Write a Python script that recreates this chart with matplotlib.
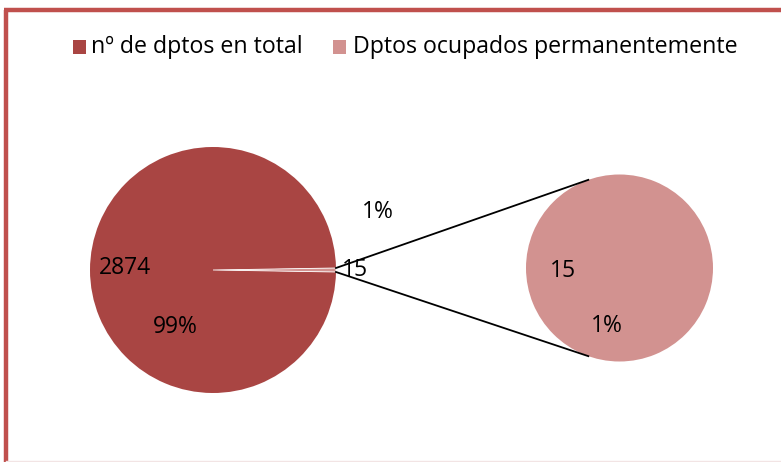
import numpy as np
import matplotlib
matplotlib.use("Agg")
import matplotlib.pyplot as plt
from matplotlib.patches import Rectangle

# Data
categories = ["nº de dptos en total", "Dptos ocupados permanentemente"]
main_values = [2874, 15]
sub_values = [15]
colors = ["#A94543", "#D29290"]
border_color = "#C0504D"

plt.rcParams['font.family'] = ['Open Sans', 'DejaVu Sans']

W, H = 781, 462
fig = plt.figure(figsize=(W / 100, H / 100), dpi=100)
ax = fig.add_axes([0, 0, 1, 1])

total = sum(main_values)
c1, r1 = (213, 270), 123
c2, r2 = (619.5, 268), 93.5

small_angle = 360 * main_values[1] / total
wedges1, _ = ax.pie(main_values, colors=colors, center=c1, radius=r1,
                    startangle=small_angle / 2, counterclock=True,
                    wedgeprops=dict(edgecolor='white', linewidth=0.6), frame=True)
wedges1[0].set_linewidth(0)

wedges2, _ = ax.pie(sub_values, colors=[colors[1]], center=c2, radius=r2,
                    wedgeprops=dict(linewidth=0), frame=True)
ax.set_xlim(0, W)
ax.set_ylim(H, 0)
ax.set_aspect('equal')
ax.axis('off')

# border (top and left)
ax.plot([5.5, 5.5], [10, H], color=border_color, lw=3.2, solid_capstyle='butt')
ax.plot([4, W], [10, 10], color=border_color, lw=3.2, solid_capstyle='butt')
ax.plot([5.5, W], [H - 1, H - 1], color="#F2E4E4", lw=1)

# connector lines
half = np.deg2rad(small_angle / 2)
end_ang = np.deg2rad(109.5)
for s in (-1, 1):
    p0 = (c1[0] + r1 * np.cos(half), c1[1] + s * r1 * np.sin(half))
    p1 = (c2[0] + r2 * np.cos(end_ang), c2[1] + s * r2 * np.sin(end_ang))
    ax.plot([p0[0], p1[0]], [p0[1], p1[1]], color='black', lw=1.3)

pct0 = f"{round(100 * main_values[0] / total)}%"
pct1 = f"{max(1, round(100 * main_values[1] / total))}%"
fs = 16.5
ax.text(125, 268, f"{main_values[0]}", fontsize=fs, ha='center', va='center')
ax.text(175, 327, pct0, fontsize=fs, ha='center', va='center')
ax.text(355, 270, f"{main_values[1]}", fontsize=fs, ha='center', va='center')
ax.text(378, 212, pct1, fontsize=fs, ha='center', va='center')
ax.text(563, 271, f"{sub_values[0]}", fontsize=fs, ha='center', va='center')
ax.text(607, 326, pct1, fontsize=fs, ha='center', va='center')

# legend
leg_y = 47
ax.add_patch(Rectangle((73, leg_y - 7), 13, 14, color=colors[0], lw=0))
ax.text(91, leg_y, categories[0], fontsize=16.7, ha='left', va='center')
ax.add_patch(Rectangle((333, leg_y - 7), 13, 14, color=colors[1], lw=0))
ax.text(353, leg_y, categories[1], fontsize=16.7, ha='left', va='center')

fig.savefig("out.png", dpi=100)
